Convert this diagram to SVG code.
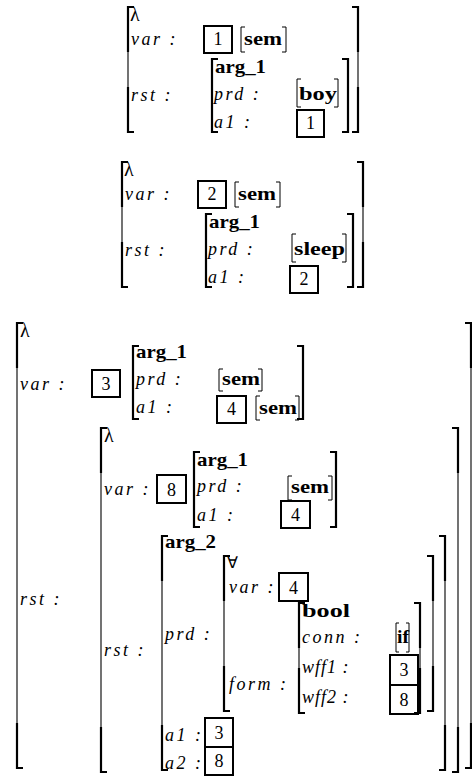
<svg xmlns="http://www.w3.org/2000/svg" width="472" height="776" viewBox="0 0 472 776">
<style>
.tk{fill:none;stroke:#000;stroke-width:2.2}
.tn{fill:none;stroke:#000;stroke-width:1.1}
.sb{fill:none;stroke:#000;stroke-width:1}
.bx{fill:none;stroke:#000;stroke-width:2}
text{font-family:"Liberation Serif","Times New Roman",serif;fill:#000}
.it{font-style:italic;font-size:18px;letter-spacing:2.5px}
.bf{font-weight:bold;font-size:19px}
.n{font-size:18px;text-anchor:middle}
.g{font-size:20px}
.q{font-size:16px}
</style>
<rect width="472" height="776" fill="#fff"/>

<g id="avm1">
<path class="tn" d="M128 7V132M358 7V132"/>
<path class="tk" d="M134 7H128V52M128 87V132H134M352 7H358V52M358 87V132H352"/>
<text class="g" x="130" y="21">λ</text>
<text class="it" x="131" y="45">var :</text>
<rect class="bx" x="204" y="26" width="28" height="27"/>
<text class="n" x="218" y="45">1</text>
<path class="sb" d="M245 27H241V52H245M282 27H286V52H282"/>
<text class="bf" x="244" y="45" textLength="38" lengthAdjust="spacingAndGlyphs">sem</text>
<text class="it" x="131" y="101">rst :</text>
<g id="avm1-rst">
<path class="tk" d="M218 59H212V132H218M342 59H348V132H342"/>
<text class="bf" x="215" y="73" textLength="51" lengthAdjust="spacingAndGlyphs">arg_1</text>
<text class="it" x="214" y="100">prd :</text>
<path class="sb" d="M301 79H297V107H301M334 79H338V107H334"/>
<text class="bf" x="299" y="100" textLength="38" lengthAdjust="spacingAndGlyphs">boy</text>
<text class="it" x="214" y="128">a1 :</text>
<rect class="bx" x="297" y="110" width="27" height="27"/>
<text class="n" x="310.5" y="129">1</text>
</g>
</g>

<g id="avm2">
<path class="tn" d="M122 162V287M363 162V287"/>
<path class="tk" d="M128 162H122V207M122 242V287H128M357 162H363V207M363 242V287H357"/>
<text class="g" x="124" y="176">λ</text>
<text class="it" x="125" y="200">var :</text>
<rect class="bx" x="198" y="181" width="28" height="27"/>
<text class="n" x="212" y="200">2</text>
<path class="sb" d="M239 182H235V207H239M276 182H280V207H276"/>
<text class="bf" x="238" y="200" textLength="38" lengthAdjust="spacingAndGlyphs">sem</text>
<text class="it" x="125" y="256">rst :</text>
<g id="avm2-rst">
<path class="tk" d="M212 214H206V287H212M347 214H353V287H347"/>
<text class="bf" x="209" y="228" textLength="51" lengthAdjust="spacingAndGlyphs">arg_1</text>
<text class="it" x="208" y="255">prd :</text>
<path class="sb" d="M296 234H292V262H296M342 234H346V262H342"/>
<text class="bf" x="294" y="255" textLength="51" lengthAdjust="spacingAndGlyphs">sleep</text>
<text class="it" x="208" y="283">a1 :</text>
<rect class="bx" x="290" y="266" width="28" height="27"/>
<text class="n" x="304" y="285">2</text>
</g>
</g>

<g id="avm3">
<path class="tn" d="M17 323V768M471 323V768"/>
<path class="tk" d="M23 323H17V368M17 723V768H23M465 323H471V368M471 723V768H465"/>
<text class="g" x="20" y="337">λ</text>
<text class="it" x="20" y="390">var :</text>
<rect class="bx" x="92" y="370" width="28" height="27"/>
<text class="n" x="106" y="390">3</text>
<g id="avm3-var">
<path class="tk" d="M139 346H133V419H139M297 346H303V419H297"/>
<text class="bf" x="136" y="358" textLength="51" lengthAdjust="spacingAndGlyphs">arg_1</text>
<text class="it" x="136" y="385">prd :</text>
<path class="sb" d="M223 369H219V391H223M258 369H262V391H258"/>
<text class="bf" x="222" y="385" textLength="38" lengthAdjust="spacingAndGlyphs">sem</text>
<text class="it" x="136" y="413">a1 :</text>
<rect class="bx" x="217" y="396" width="29" height="27"/>
<text class="n" x="231.5" y="415">4</text>
<path class="sb" d="M260 396H256V420H260M295 396H299V420H295"/>
<text class="bf" x="259" y="414" textLength="38" lengthAdjust="spacingAndGlyphs">sem</text>
</g>
<text class="it" x="20" y="605">rst :</text>

<g id="avm3-rst">
<path class="tn" d="M101 428V772M458 428V772"/>
<path class="tk" d="M107 428H101V473M101 727V772H107M452 428H458V473M458 727V772H452"/>
<text class="g" x="104" y="442">λ</text>
<text class="it" x="104" y="495">var :</text>
<rect class="bx" x="157" y="475" width="29" height="28"/>
<text class="n" x="171.5" y="496">8</text>
<g id="avm3-rst-var">
<path class="tk" d="M200 452H194V527H200M330 452H336V527H330"/>
<text class="bf" x="197" y="466" textLength="51" lengthAdjust="spacingAndGlyphs">arg_1</text>
<text class="it" x="197" y="492">prd :</text>
<path class="sb" d="M292 476H288V500H292M328 476H332V500H328"/>
<text class="bf" x="291" y="493" textLength="38" lengthAdjust="spacingAndGlyphs">sem</text>
<text class="it" x="197" y="521">a1 :</text>
<rect class="bx" x="281" y="501" width="29" height="27"/>
<text class="n" x="295.5" y="521">4</text>
</g>
<text class="it" x="104" y="656">rst :</text>

<g id="avm3-arg2">
<path class="tn" d="M162 536V770M445 536V770"/>
<path class="tk" d="M168 536H162V581M162 725V770H168M439 536H445V581M445 725V770H439"/>
<text class="bf" x="165" y="548" textLength="51" lengthAdjust="spacingAndGlyphs">arg_2</text>
<text class="it" x="165" y="640">prd :</text>
<g id="avm3-forall">
<path class="tn" d="M224 556V711M433 556V711"/>
<path class="tk" d="M230 556H224V601M224 666V711H230M427 556H433V601M433 666V711H427"/>
<text class="q" x="227" y="568">∀</text>
<text class="it" x="229" y="593">var :</text>
<rect class="bx" x="279" y="573" width="29" height="28"/>
<text class="n" x="293.5" y="594">4</text>
<text class="it" x="229" y="690">form :</text>
<g id="avm3-bool">
<path class="tn" d="M299 603V713M420 603V713"/>
<path class="tk" d="M305 603H299V648M299 668V713H305M414 603H420V648M420 668V713H414"/>
<text class="bf" x="302" y="617" textLength="48" lengthAdjust="spacingAndGlyphs">bool</text>
<text class="it" x="302" y="643">conn :</text>
<path class="sb" d="M399 623H396V652H399M406 623H409V652H406"/>
<text class="bf" x="397" y="643" textLength="12" lengthAdjust="spacingAndGlyphs">if</text>
<text class="it" x="302" y="673" style="letter-spacing:1px">wff1 :</text>
<rect class="bx" x="390" y="655" width="28" height="30"/>
<text class="n" x="404" y="676">3</text>
<text class="it" x="302" y="703" style="letter-spacing:1px">wff2 :</text>
<rect class="bx" x="390" y="685" width="28" height="29"/>
<text class="n" x="404" y="706">8</text>
</g>
</g>
<text class="it" x="165" y="741">a1 :</text>
<rect class="bx" x="205" y="718" width="28" height="29"/>
<text class="n" x="219" y="739">3</text>
<text class="it" x="165" y="769">a2 :</text>
<rect class="bx" x="205" y="747" width="28" height="28"/>
<text class="n" x="219" y="767">8</text>
</g>
</g>
</g>
</svg>
